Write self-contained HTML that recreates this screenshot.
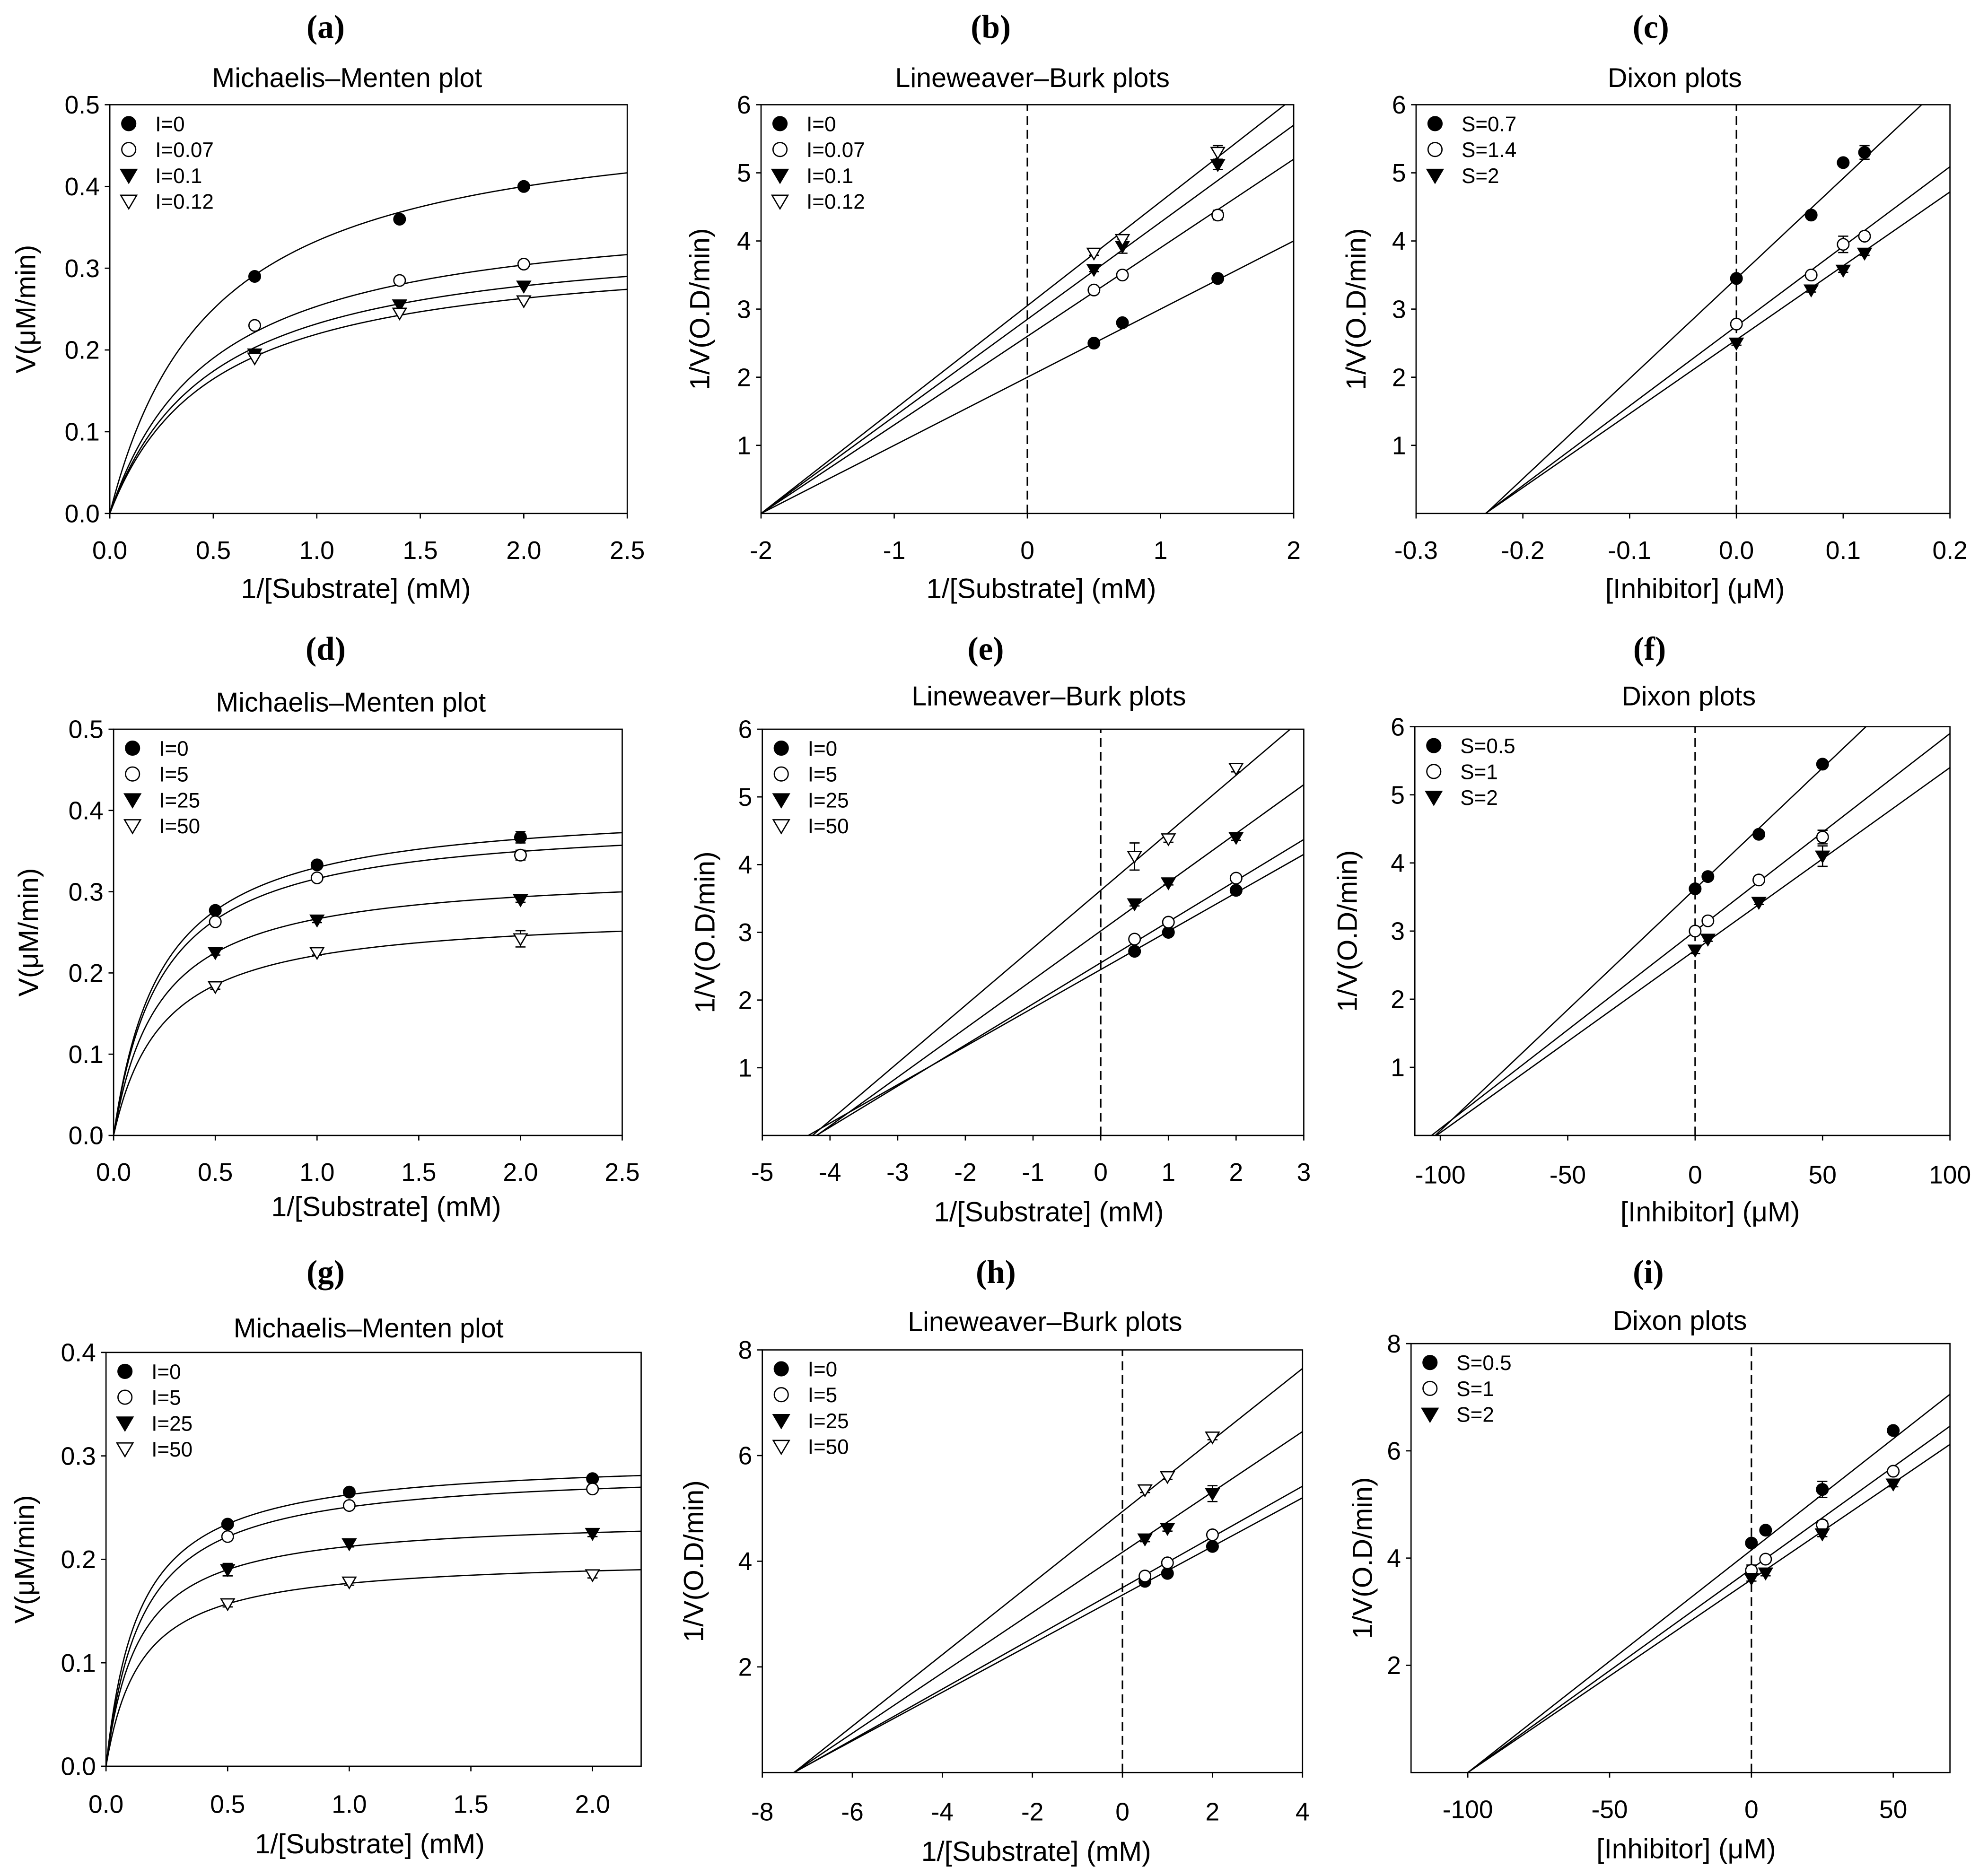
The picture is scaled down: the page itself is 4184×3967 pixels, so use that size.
<!DOCTYPE html>
<html><head><meta charset="utf-8"><style>
html,body{margin:0;padding:0;background:#fff}
svg{display:block}
text{font-family:"Liberation Sans",sans-serif;fill:#000}
</style></head><body>
<svg id="fig" xmlns="http://www.w3.org/2000/svg" width="4184" height="3967" viewBox="0 0 1568 1487" preserveAspectRatio="none"></svg>
<script>
// ---- data ----
const aX=[0.7,1.4,2.0];
const aLegend=["I=0","I=0.07","I=0.1","I=0.12"];
const aY=[[0.29,0.36,0.40],[0.23,0.285,0.305],[0.195,0.255,0.278],[0.19,0.245,0.26]];
const aVmax=[0.5,0.38,0.348,0.329];
const aKm=[0.5,0.5,0.5,0.5];

const bX=[0.5,0.714,1.43];
const bLegend=["I=0","I=0.07","I=0.1","I=0.12"];
const bY=[[2.5,2.8,3.45],[3.28,3.5,4.38],[3.58,3.92,5.12],[3.82,4.02,5.3]];
const bErr=[[0.03,0.03,0.03],[0.03,0.03,0.07],[0.03,0.1,0.07],[0.03,0.05,0.1]];
const bInt=[2.0,2.6,2.85,3.05];
const bSlope=[1.0,1.3,1.425,1.525];

const cX=[0,0.07,0.1,0.12];
const cLegend=["S=0.7","S=1.4","S=2"];
const cY=[[3.45,4.38,5.15,5.3],[2.78,3.5,3.95,4.07],[2.5,3.28,3.57,3.82]];
const cErr=[[0.03,0.05,0.03,0.1],[0.05,0.03,0.12,0.03],[0.03,0.03,0.03,0.03]];
const cInt=[3.45,2.75,2.55];
const cSlope=[14.7,11.7,10.85];

const dX=[0.5,1,2];
const dLegend=["I=0","I=5","I=25","I=50"];
const dY=[[0.277,0.333,0.367],[0.263,0.317,0.345],[0.225,0.265,0.29],[0.183,0.225,0.242]];
const dErr=[[0.003,0.003,0.007],[0.003,0.003,0.006],[0.003,0.003,0.003],[0.003,0.003,0.01]];
const dVmax=[0.408,0.391,0.327,0.276];
const dKm=[0.237,0.237,0.227,0.245];

const eX=[0.5,1,2];
const eLegend=["I=0","I=5","I=25","I=50"];
const eY=[[2.72,3.0,3.62],[2.9,3.15,3.8],[3.42,3.73,4.4],[4.12,4.38,5.42]];
const eErr=[[0.04,0.03,0.04],[0.03,0.03,0.03],[0.03,0.03,0.04],[0.2,0.05,0.05]];
const eInt=[2.45,2.55,3.02,3.62];
const eSlope=[0.567,0.607,0.72,0.85];

const fX=[0,5,25,50];
const fLegend=["S=0.5","S=1","S=2"];
const fY=[[3.62,3.8,4.42,5.45],[3.0,3.15,3.75,4.38],[2.72,2.88,3.42,4.1]];
const fErr=[[0.03,0.03,0.03,0.03],[0.03,0.03,0.03,0.1],[0.05,0.03,0.03,0.15]];
const fInt=[3.62,3.0,2.72];
const fSlope=[0.0355,0.029,0.0268];

const gX=[0.5,1,2];
const gLegend=["I=0","I=5","I=25","I=50"];
const gY=[[0.234,0.265,0.278],[0.222,0.252,0.268],[0.19,0.215,0.225],[0.157,0.178,0.185]];
const gErr=[[0.003,0.003,0.003],[0.003,0.003,0.003],[0.006,0.003,0.003],[0.003,0.003,0.003]];
const gVmax=[0.2986,0.288,0.241,0.2025];
const gKm=[0.1375,0.149,0.134,0.145];

const hX=[0.5,1,2];
const hLegend=["I=0","I=5","I=25","I=50"];
const hY=[[3.62,3.77,4.28],[3.72,3.97,4.5],[4.42,4.62,5.28],[5.35,5.6,6.35]];
const hErr=[[0.05,0.05,0.05],[0.05,0.05,0.05],[0.05,0.05,0.15],[0.05,0.05,0.05]];
const hInt=[3.36,3.5,4.17,4.94];
const hSlope=[0.46,0.48,0.571,0.677];

const iX=[0,5,25,50];
const iLegend=["S=0.5","S=1","S=2"];
const iY=[[4.28,4.52,5.28,6.38],[3.77,3.98,4.62,5.62],[3.62,3.72,4.45,5.38]];
const iErr=[[0.05,0.05,0.15,0.05],[0.1,0.05,0.08,0.05],[0.05,0.05,0.05,0.05]];
const iInt=[4.15,3.8,3.6];
const iSlope=[0.0415,0.038,0.036];

const mmTicksA=["0.0","0.5","1.0","1.5","2.0","2.5"];
const vTicks5=["0.0","0.1","0.2","0.3","0.4","0.5"];
const vTicks4=["0.0","0.1","0.2","0.3","0.4"];
const mmTicksG=["0.0","0.5","1.0","1.5","2.0"];
const ticks16=["1","2","3","4","5","6"];
const ticks8=["2","4","6","8"];
const xTicksB=["-2","-1","0","1","2"];
const xTicksC=["-0.3","-0.2","-0.1","0.0","0.1","0.2"];
const xTicksE=["-5","-4","-3","-2","-1","0","1","2","3"];
const xTicksF=["-100","-50","0","50","100"];
const xTicksH=["-8","-6","-4","-2","0","2","4"];
const xTicksI=["-100","-50","0","50"];

// ---- rendering ----
const NS="http://www.w3.org/2000/svg";
const svg=document.getElementById('fig');
function mk(tag,attrs,parent){const e=document.createElementNS(NS,tag);for(const k in attrs)e.setAttribute(k,attrs[k]);(parent||svg).appendChild(e);return e;}
const markers=['fc','oc','ft','ot'];
function marker(g,t,x,y,s){
  s=s||1;
  let e;
  if(t[1]==='c'){e=mk('circle',{cx:x,cy:y,r:4.8*s,fill:t[0]==='f'?'#000':'#fff',stroke:'#000','stroke-width':1},g);}
  else{const h=5.5*s;e=mk('polygon',{points:`${x-h},${y-h*0.75} ${x+h},${y-h*0.75} ${x},${y+h*0.95}`,fill:t[0]==='f'?'#000':'#fff',stroke:'#000','stroke-width':1},g);}
  return e;
}
function panel(p){
  const g=mk('g',{});
  
  
  const sx=v=>p.l+(v-p.xmin)/(p.xmax-p.xmin)*(p.r-p.l);
  const sy=v=>p.b-(v-p.ymin)/(p.ymax-p.ymin)*(p.b-p.t);
  let t=mk('text',{x:p.lx,y:p.ly,'text-anchor':'middle','font-size':26,'font-weight':'bold',style:'font-family:"Liberation Serif",serif'},g);
  t.textContent='('+p.id+')';
  
  
  t=mk('text',{x:p.tx,y:p.ty,'text-anchor':'middle','font-size':21.5},g);t.textContent=p.title;
  
  
  const cid='clip'+p.id;
  const cp=mk('clipPath',{id:cid},g);mk('rect',{x:p.l,y:p.t,width:p.r-p.l,height:p.b-p.t},cp);
  const fr=mk('rect',{x:p.l,y:p.t,width:p.r-p.l,height:p.b-p.t,fill:'none',stroke:'#000','stroke-width':1},g);
  
  
  p.xt.forEach((s)=>{const x=sx(Number(s));mk('line',{x1:x,y1:p.b,x2:x,y2:p.b+4,stroke:'#000','stroke-width':1},g);
    const tt=mk('text',{x:x,y:p.xly,'text-anchor':'middle','font-size':20},g);tt.textContent=s;
    
    });
  p.yt.forEach(s=>{const y=sy(Number(s));mk('line',{x1:p.l-4,y1:y,x2:p.l,y2:y,stroke:'#000','stroke-width':1},g);
    const tt=mk('text',{x:p.l-8,y:y+7,'text-anchor':'end','font-size':20},g);tt.textContent=s;
    
    });
  t=mk('text',{x:p.xtx,y:p.xty,'text-anchor':'middle','font-size':22},g);t.textContent=p.xlabel;
  
  
  const yc=(p.t+p.b)/2;
  t=mk('text',{x:0,y:0,'text-anchor':'middle','font-size':22,transform:`translate(${p.ytx},${yc}) rotate(-90)`},g);t.textContent=p.ylabel;
  
  
  if(p.dash){const d=mk('line',{x1:sx(0),y1:p.b,x2:sx(0),y2:p.t,stroke:'#000','stroke-width':1.2,'stroke-dasharray':'7,4'},g);
    
    }
  const cg=mk('g',{'clip-path':`url(#${cid})`},g);
  p.ys.forEach((ser,k)=>{
    let pts=[];
    if(p.vmax){for(let j=0;j<=200;j++){const x=p.xmin+(p.xmax-p.xmin)*j/200;const y=p.vmax[k]*x/(p.km[k]+x);pts.push(sx(x).toFixed(2)+','+sy(y).toFixed(2));}}
    else{const b=p.int[k],s=p.slope[k];const x0=-b/s;let x1=p.xmax;const xt=(p.ymax-b)/s;if(xt<x1)x1=xt;
      pts=[sx(x0)+','+sy(0),sx(x1)+','+sy(b+s*x1)];}
    const pl=mk('polyline',{points:pts.join(' '),fill:'none',stroke:'#000','stroke-width':1},cg);
    
    
  });
  p.ys.forEach((ser,k)=>{
    ser.forEach((v,j)=>{
      const x=sx(p.xs[j]),y=sy(v);
      if(p.err){const e=p.err[k][j];const y1=sy(v+e),y2=sy(v-e);
        mk('line',{x1:x,y1:y1,x2:x,y2:y2,stroke:'#000','stroke-width':1},g);
        mk('line',{x1:x-4,y1:y1,x2:x+4,y2:y1,stroke:'#000','stroke-width':1},g);
        mk('line',{x1:x-4,y1:y2,x2:x+4,y2:y2,stroke:'#000','stroke-width':1},g);}
      const m=marker(g,markers[k],x,y,0.95);
      
      
    });
  });
  p.leg.forEach((s,k)=>{
    const y=p.t+15+k*20.5;
    const m=marker(g,markers[k],p.l+15,y,1.15);
    
    
    const tt=mk('text',{x:p.l+36,y:y+6,'font-size':16.5},g);tt.textContent=s;
    
    
  });
}
const SUB="1/[Substrate] (mM)",INH="[Inhibitor] (\u03bcM)",VY="V(\u03bcM/min)",LY="1/V(O.D/min)";
panel({id:'a',l:87,r:497,t:83,b:407,xmin:0,xmax:2.5,ymin:0,ymax:0.5,xt:mmTicksA,yt:vTicks5,xs:aX,ys:aY,leg:aLegend,vmax:aVmax,km:aKm,
  lx:258,ly:30,tx:275,ty:69,title:"Michaelis\u2013Menten plot",xly:443,xtx:282,xty:474,xlabel:SUB,ytx:28,ylabel:VY});
panel({id:'b',l:603,r:1025,t:83,b:407,xmin:-2,xmax:2,ymin:0,ymax:6,xt:xTicksB,yt:ticks16,xs:bX,ys:bY,err:bErr,leg:bLegend,int:bInt,slope:bSlope,dash:1,
  lx:785,ly:30,tx:818,ty:69,title:"Lineweaver\u2013Burk plots",xly:443,xtx:825,xty:474,xlabel:SUB,ytx:562,ylabel:LY});
panel({id:'c',l:1122,r:1545,t:83,b:407,xmin:-0.3,xmax:0.2,ymin:0,ymax:6,xt:xTicksC,yt:ticks16,xs:cX,ys:cY,err:cErr,leg:cLegend,int:cInt,slope:cSlope,dash:1,
  lx:1308,ly:30,tx:1327,ty:69,title:"Dixon plots",xly:443,xtx:1343,xty:474,xlabel:INH,ytx:1082,ylabel:LY});
panel({id:'d',l:90,r:493,t:578,b:900,xmin:0,xmax:2.5,ymin:0,ymax:0.5,xt:mmTicksA,yt:vTicks5,xs:dX,ys:dY,err:dErr,leg:dLegend,vmax:dVmax,km:dKm,
  lx:258,ly:523,tx:278,ty:564,title:"Michaelis\u2013Menten plot",xly:936,xtx:306,xty:964,xlabel:SUB,ytx:30,ylabel:VY});
panel({id:'e',l:604,r:1033,t:578,b:900,xmin:-5,xmax:3,ymin:0,ymax:6,xt:xTicksE,yt:ticks16,xs:eX,ys:eY,err:eErr,leg:eLegend,int:eInt,slope:eSlope,dash:1,
  lx:781,ly:523,tx:831,ty:559,title:"Lineweaver\u2013Burk plots",xly:936,xtx:831,xty:968,xlabel:SUB,ytx:566,ylabel:LY});
panel({id:'f',l:1121,r:1545,t:576,b:900,xmin:-110,xmax:100,ymin:0,ymax:6,xt:xTicksF,yt:ticks16,xs:fX,ys:fY,err:fErr,leg:fLegend,int:fInt,slope:fSlope,dash:1,
  lx:1307,ly:523,tx:1338,ty:559,title:"Dixon plots",xly:938,xtx:1355,xty:968,xlabel:INH,ytx:1075,ylabel:LY});
panel({id:'g',l:84,r:508,t:1072,b:1400,xmin:0,xmax:2.2,ymin:0,ymax:0.4,xt:mmTicksG,yt:vTicks4,xs:gX,ys:gY,err:gErr,leg:gLegend,vmax:gVmax,km:gKm,
  lx:258,ly:1017,tx:292,ty:1060,title:"Michaelis\u2013Menten plot",xly:1437,xtx:293,xty:1469,xlabel:SUB,ytx:27,ylabel:VY});
panel({id:'h',l:604,r:1032,t:1070,b:1405,xmin:-8,xmax:4,ymin:0,ymax:8,xt:xTicksH,yt:ticks8,xs:hX,ys:hY,err:hErr,leg:hLegend,int:hInt,slope:hSlope,dash:1,
  lx:789,ly:1017,tx:828,ty:1055,title:"Lineweaver\u2013Burk plots",xly:1443,xtx:821,xty:1475,xlabel:SUB,ytx:557,ylabel:LY});
panel({id:'i',l:1118,r:1545,t:1065,b:1405,xmin:-120,xmax:70,ymin:0,ymax:8,xt:xTicksI,yt:ticks8,xs:iX,ys:iY,err:iErr,leg:iLegend,int:iInt,slope:iSlope,dash:1,
  lx:1306,ly:1017,tx:1331,ty:1054,title:"Dixon plots",xly:1441,xtx:1336,xty:1473,xlabel:INH,ytx:1087,ylabel:LY});
</script>
</body></html>
